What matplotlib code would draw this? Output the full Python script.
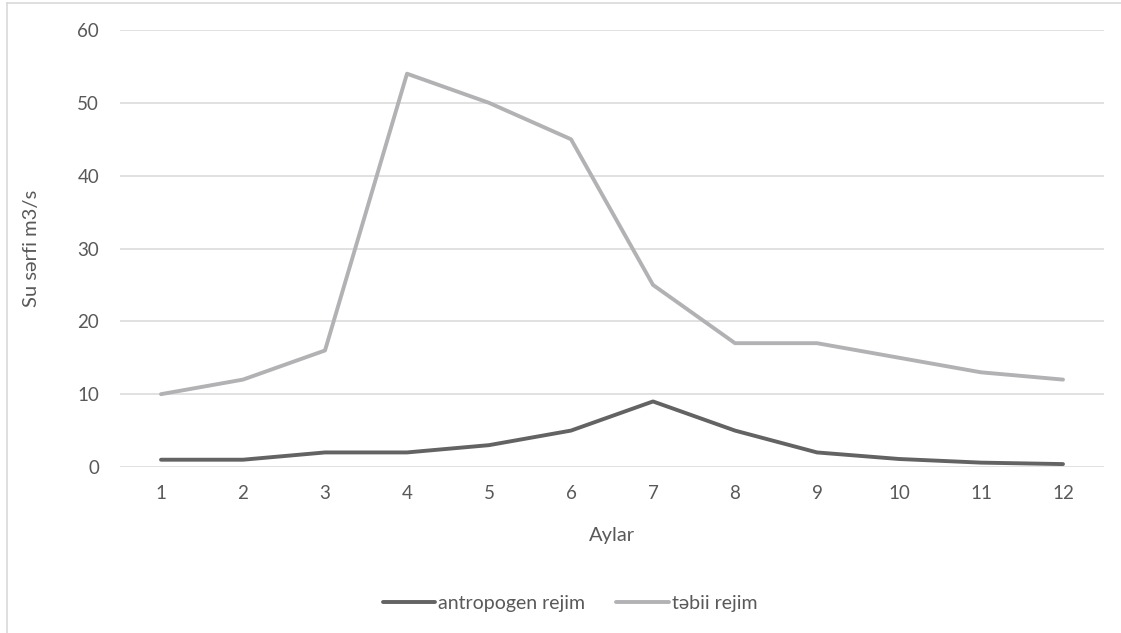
"""monthly water discharge, natural vs anthropogenic regime (excel-style line chart)"""

import matplotlib
matplotlib.use("Agg")
import matplotlib.pyplot as plt
from matplotlib.lines import Line2D

months = list(range(1, 13))
antropogen = [1, 1, 2, 2, 3, 5, 9, 5, 2, 1.1, 0.6, 0.4]
tebii = [10, 12, 16, 54, 50, 45, 25, 17, 17, 15, 13, 12]
yticks = [0, 10, 20, 30, 40, 50, 60]

text_color = "#595959"
grid_color = "#d9d9d9"

plt.rcParams["font.family"] = ["Lato", "DejaVu Sans"]

fig = plt.figure(figsize=(11.21, 6.33), dpi=100)
ax = fig.add_axes([120 / 1121, 1 - 467 / 633, (1104 - 120) / 1121, (467 - 30) / 633])

ax.plot(months, antropogen, color="#636363", lw=2.8, solid_capstyle="round",
        solid_joinstyle="round", label="antropogen rejim", zorder=3)
ax.plot(months, tebii, color="#b2b2b5", lw=2.8, solid_capstyle="round",
        solid_joinstyle="round", label="təbii rejim", zorder=3)

ax.set_xlim(0.5, 12.5)
ax.set_ylim(0, 60)
ax.set_xticks(months)
ax.set_yticks(yticks)
ax.grid(axis="y", color=grid_color, lw=1.1)
ax.set_axisbelow(True)
for s in ax.spines.values():
    s.set_visible(False)
ax.tick_params(length=0, labelsize=13.5, labelcolor=text_color)
ax.tick_params(axis="y", pad=15)
ax.tick_params(axis="x", pad=13)

ax.set_xlabel("Aylar", fontsize=14.5, color=text_color, labelpad=18)
ax.set_ylabel("Su sərfi m3/s", fontsize=14.5, color=text_color, labelpad=27)

fig.legend(loc="center", bbox_to_anchor=(570 / 1121, 1 - 603 / 633), ncol=2, frameon=False,
           fontsize=14, labelcolor=text_color, handlelength=2.7, handletextpad=0.15,
           columnspacing=1.6)

# light outer chart border (left and top only show in the crop)
fig.add_artist(Line2D([6.5 / 1121, 6.5 / 1121], [0, 1 - 2.5 / 633], color=grid_color, lw=1.2))
fig.add_artist(Line2D([6.5 / 1121, 1], [1 - 2.5 / 633, 1 - 2.5 / 633], color=grid_color, lw=1.2))

fig.savefig("out.png", dpi=100)
